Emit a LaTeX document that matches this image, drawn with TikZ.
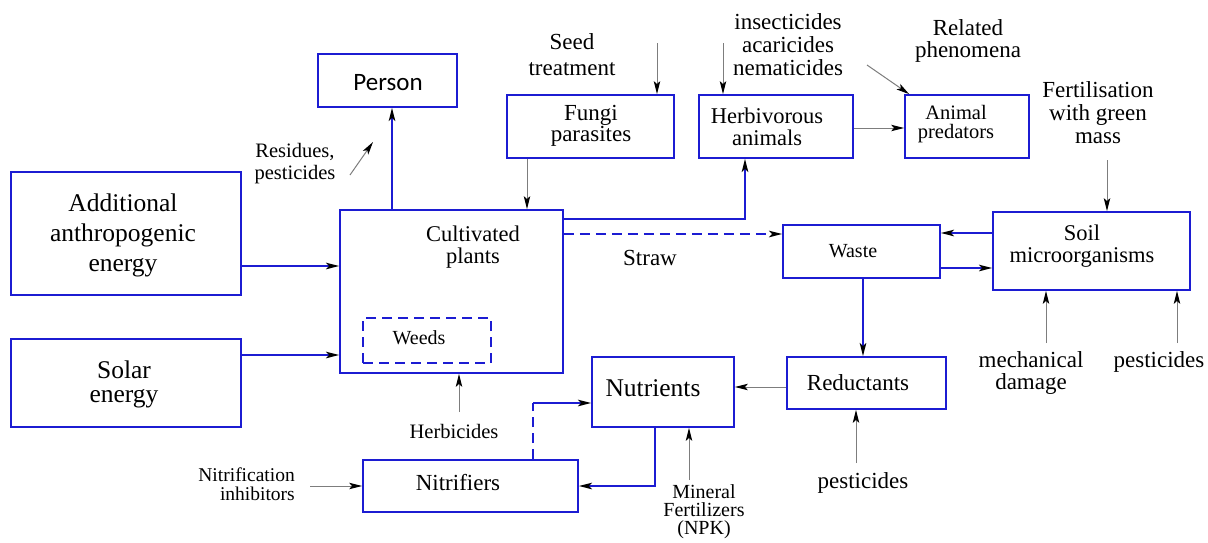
\documentclass[tikz,border=0pt]{standalone}
\usepackage{fontspec}
\setmainfont{Liberation Serif}
\newfontfamily\calib{Carlito}
\usetikzlibrary{arrows.meta}
\definecolor{bblue}{RGB}{28,28,210}
\definecolor{lgray}{RGB}{125,125,125}
\newcommand\fsz[2]{\fontsize{#1}{#2}\selectfont}
\begin{document}
\begin{tikzpicture}[x=1pt,y=-1pt,
  box/.style={draw=bblue, line width=1.8pt, rectangle, inner sep=0pt},
  txt/.style={align=center, inner sep=0pt},
  tip/.style={-{Stealth[length=13pt,width=6.5pt,inset=3pt,color=black]}},
  flow/.style={draw=bblue, line width=1.8pt, tip},
  feed/.style={draw=lgray, line width=1pt, tip},
  dsh/.style={dash pattern=on 10pt off 6pt}]
\useasboundingbox (0,0) rectangle (1208,542);

% boxes
\node[box, minimum width=139pt, minimum height=53pt] (pers) at (387.5,80.5) {};
\node[txt, font=\calib\fsz{25}{28}] (persT) at (388,83) {Person};
\node[box, minimum width=230pt, minimum height=123pt] (add) at (126,233.5) {};
\node[txt, font=\fsz{25.5}{30}] (addT) at (123,235) {Additional\\anthropogenic\\energy};
\node[box, minimum width=230pt, minimum height=88pt] (sol) at (126,383) {};
\node[txt, font=\fsz{25.5}{24}] (solT) at (124,384) {Solar\\energy};
\node[box, minimum width=223pt, minimum height=163pt] (cult) at (451.5,291.5) {};
\node[txt, font=\fsz{22.5}{22}] (cultT) at (473,247) {Cultivated\\plants};
\node[box, dsh, minimum width=128pt, minimum height=45pt] (weed) at (427,340.5) {};
\node[txt, font=\fsz{20}{22}] (weedT) at (419,338) {Weeds};
\node[box, minimum width=167pt, minimum height=63pt] (fung) at (590.5,126.5) {};
\node[txt, font=\fsz{23}{20}] (fungT) at (591,126) {Fungi\\parasites};
\node[box, minimum width=154pt, minimum height=63pt] (herb) at (776,126.5) {};
\node[txt, font=\fsz{22.5}{22}] (herbT) at (767,127) {Herbivorous\\animals};
\node[box, minimum width=124pt, minimum height=63pt] (pred) at (967,126.5) {};
\node[txt, font=\fsz{20.5}{19}] (predT) at (956,124) {Animal\\predators};
\node[box, minimum width=157pt, minimum height=53pt] (waste) at (861.5,251.5) {};
\node[txt, font=\fsz{20}{22}] (wasteT) at (853,251) {Waste};
\node[box, minimum width=197pt, minimum height=78pt] (soil) at (1091.5,251) {};
\node[txt, font=\fsz{22.5}{22}] (soilT) at (1082,246) {Soil\\microorganisms};
\node[box, minimum width=159pt, minimum height=52pt] (red) at (866.5,383) {};
\node[txt, font=\fsz{23}{22}] (redT) at (858,383) {Reductants};
\node[box, minimum width=142pt, minimum height=70pt] (nut) at (663,392) {};
\node[txt, font=\fsz{25.5}{22}] (nutT) at (653,388) {Nutrients};
\node[box, minimum width=215pt, minimum height=52pt] (nitr) at (470.5,486) {};
\node[txt, font=\fsz{23}{22}] (nitrT) at (458,483) {Nitrifiers};

% labels
\node[txt, font=\fsz{20.5}{22}] (res) at (295,164) {Residues,\\pesticides};
\node[txt, font=\fsz{23}{26}] (seed) at (572,55) {Seed\\treatment};
\node[txt, font=\fsz{23}{23}] (ins) at (788,45) {insecticides\\acaricides\\nematicides};
\node[txt, font=\fsz{23}{22}] (rel) at (968,41) {Related\\phenomena};
\node[txt, font=\fsz{23}{23}] (fert) at (1098,113) {Fertilisation\\with green\\mass};
\node[txt, font=\fsz{23}{22}] (straw) at (650,258) {Straw};
\node[txt, font=\fsz{20.5}{22}] (herbi) at (454,431) {Herbicides};
\node[txt, align=right, anchor=east, font=\fsz{19.5}{19}] (nitinh) at (295,484) {Nitrification\\inhibitors};
\node[txt, font=\fsz{20}{18}] (min) at (704,512) {Mineral\\Fertilizers\\(NPK)};
\node[txt, font=\fsz{23}{22}] (pestR) at (863,483) {pesticides};
\node[txt, font=\fsz{23}{22}] (mech) at (1031,373) {mechanical\\damage};
\node[txt, font=\fsz{23}{22}] (pestS) at (1159,362) {pesticides};

% free ends
\coordinate (resA) at (350,175);
\coordinate (resB) at (373,142);
\coordinate (seedA) at (657,43);
\coordinate (insA) at (723,43);
\coordinate (relA) at (867,65);
\coordinate (fertA) at (1107,160);
\coordinate (pRA) at (856,463);
\coordinate (mechA) at (1046,343);
\coordinate (pSA) at (1177,343);
\coordinate (minA) at (689,480);
\coordinate (nbend) at (533,403);
\coordinate (hbA) at (459,412);
\coordinate (niA) at (310,486);

% connectors
\draw[flow] (add.east |- 0,266) -- (cult.west |- 0,266);
\draw[flow] (sol.east |- 0,355) -- (cult.west |- 0,355);
\draw[flow] (cult.north -| 392,0) -- (pers.south -| 392,0);
\draw[feed] (resA) -- (resB);
\draw[feed] (fung.south -| 527,0) -- (cult.north -| 527,0);
\draw[feed] (seedA) -- (seedA |- fung.north);
\draw[feed] (insA) -- (insA |- herb.north);
\draw[flow] (cult.east |- 0,219) -| (herb.south -| 745,0);
\draw[flow, dsh] (cult.east |- 0,234) -- (waste.west |- 0,234);
\draw[feed] (herb.east |- 0,128) -- (pred.west |- 0,128);
\draw[feed] (relA) -- ([xshift=5pt]pred.north west);
\draw[feed] (fertA) -- (fertA |- soil.north);
\draw[flow] (soil.west |- 0,233) -- (waste.east |- 0,233);
\draw[flow] (waste.east |- 0,268) -- (soil.west |- 0,268);
\draw[flow] (waste.south -| 863,0) -- (red.north -| 863,0);
\draw[feed] (pRA) -- (pRA |- red.south);
\draw[feed] (mechA) -- (mechA |- soil.south);
\draw[feed] (pSA) -- (pSA |- soil.south);
\draw[feed] (red.west |- 0,387) -- (nut.east |- 0,387);
\draw[feed] (minA) -- (minA |- nut.south);
\draw[flow] (nut.south -| 655,0) |- (nitr.east |- 0,486);
\draw[draw=bblue, line width=1.8pt, dsh] (nitr.north -| nbend) -- (nbend);
\draw[flow] (nbend) -- (nut.west |- nbend);
\draw[feed] (hbA) -- (hbA |- cult.south);
\draw[feed] (niA) -- (niA -| nitr.west);
\end{tikzpicture}
\end{document}
